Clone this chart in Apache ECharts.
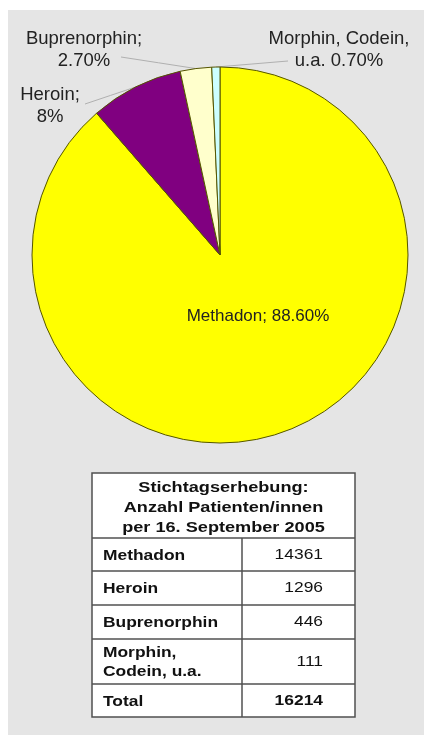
<!DOCTYPE html>
<html>
<head>
<meta charset="utf-8">
<script src="https://cdn.jsdelivr.net/npm/echarts@6/dist/echarts.min.js"></script>
<style>
html,body{margin:0;padding:0;background:#ffffff;}
#chart{width:424px;height:735px;}
</style>
</head>
<body>
<div id="chart"></div>
<script>
// ---- data ----
const categories = ['Methadon', 'Heroin', 'Buprenorphin', 'Morphin, Codein, u.a.'];
const shares = [88.6, 8, 2.7, 0.7];
const labelTexts = ['Methadon; 88.60%', 'Heroin;\n8%', 'Buprenorphin;\n2.70%', 'Morphin, Codein,\nu.a. 0.70%'];
const sliceColors = ['#ffff00', '#800080', '#ffffcc', '#ccffff'];
const tableHeader = ['Stichtagserhebung:', 'Anzahl Patienten/innen', 'per 16. September 2005'];
const tableRows = ['Methadon', 'Heroin', 'Buprenorphin', 'Morphin,\nCodein, u.a.'];
const tableCounts = [14361, 1296, 446, 111];
const totalLabel = 'Total';
const totalCount = 16214;

// ---- layout (positions only) ----
const FONT = '"Liberation Sans", Arial, sans-serif';
const labelPos = [
  {x: 258, y: 316},
  {x: 50, y: 106, lineEnd: [85, 104]},
  {x: 84, y: 50, lineEnd: [121, 57]},
  {x: 339, y: 50, lineEnd: [288, 61]}
];

const chart = echarts.init(document.getElementById('chart'), null, {renderer: 'canvas'});

const pieData = categories.map((c, i) => ({
  name: c,
  value: shares[i],
  itemStyle: {color: sliceColors[i]},
  label: {
    show: true,
    position: i === 0 ? 'inside' : 'outside',
    formatter: labelTexts[i],
    fontSize: i === 0 ? 17 : 18.5
  },
  labelLine: {show: i !== 0}
}));

// table graphics
const T = {x: 92, y: 473, w: 263, colX: 242, headBottom: 538, rowBottoms: [571, 605, 639, 684, 717]};
const g = [];
g.push({type: 'rect', z: -10, shape: {x: 8, y: 10, width: 416, height: 725}, style: {fill: '#e5e5e5'}, silent: true});
g.push({type: 'rect', shape: {x: T.x, y: T.y, width: T.w, height: T.rowBottoms[4] - T.y}, style: {fill: '#ffffff', stroke: '#505050', lineWidth: 1.5}});
tableHeader.forEach((t, i) => {
  g.push({type: 'text', x: T.x + T.w / 2, y: 488 + i * 20, scaleX: 1.17,
    style: {text: t, fill: '#111', font: 'bold 15.5px ' + FONT, align: 'center', verticalAlign: 'middle', textAlign: 'center', textVerticalAlign: 'middle'}});
});
g.push({type: 'line', shape: {x1: T.x, y1: T.headBottom, x2: T.x + T.w, y2: T.headBottom}, style: {stroke: '#505050', lineWidth: 1.5}});
T.rowBottoms.slice(0, 4).forEach(yy => {
  g.push({type: 'line', shape: {x1: T.x, y1: yy, x2: T.x + T.w, y2: yy}, style: {stroke: '#505050', lineWidth: 1.5}});
});
g.push({type: 'line', shape: {x1: T.colX, y1: T.headBottom, x2: T.colX, y2: T.rowBottoms[4]}, style: {stroke: '#505050', lineWidth: 1.5}});
const rowNames = tableRows.concat([totalLabel]);
const rowVals = tableCounts.concat([totalCount]);
rowNames.forEach((name, i) => {
  const top = i === 0 ? T.headBottom : T.rowBottoms[i - 1];
  const cy = (top + T.rowBottoms[i]) / 2;
  g.push({type: 'text', x: 103, y: cy + 1, scaleX: 1.2,
    style: {text: name, fill: '#111', font: 'bold 14.5px ' + FONT, lineHeight: 19, align: 'left', verticalAlign: 'middle', textAlign: 'left', textVerticalAlign: 'middle'}});
  g.push({type: 'text', x: 323, y: cy, scaleX: 1.2,
    style: {text: String(rowVals[i]), fill: '#111', font: (i === 4 ? 'bold ' : '') + '14.5px ' + FONT, align: 'right', verticalAlign: 'middle', textAlign: 'right', textVerticalAlign: 'middle'}});
});

chart.setOption({
  animation: false,
  backgroundColor: 'transparent',
  graphic: g,
  series: [{
    type: 'pie',
    center: [220, 255],
    radius: 188,
    startAngle: 90,
    clockwise: true,
    avoidLabelOverlap: false,
    data: pieData,
    itemStyle: {borderColor: '#555500', borderWidth: 1},
    label: {color: '#222', fontFamily: FONT, fontSize: 17, lineHeight: 22, align: 'center'},
    labelLine: {lineStyle: {color: '#b0b0b0', width: 1}},
    labelLayout: function (p) {
      const L = labelPos[p.dataIndex];
      const out = {x: L.x, y: L.y, align: 'center', verticalAlign: 'middle'};
      if (L.lineEnd && p.labelLinePoints) {
        const s = p.labelLinePoints[0];
        out.labelLinePoints = [[s[0], s[1]], [(s[0] + L.lineEnd[0]) / 2, (s[1] + L.lineEnd[1]) / 2], L.lineEnd];
      }
      return out;
    }
  }]
});
</script>
</body>
</html>
